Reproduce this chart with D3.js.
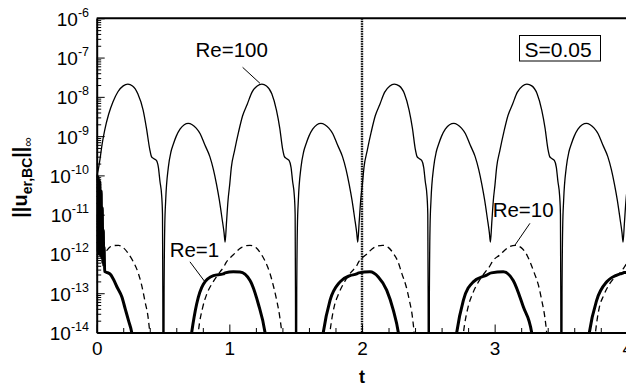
<!DOCTYPE html>
<html>
<head>
<meta charset="utf-8">
<script src="https://cdn.jsdelivr.net/npm/d3@7"></script>
<style>
  html, body { margin: 0; padding: 0; background: #fff; }
  svg { display: block; font-family: "Liberation Sans", Arial, Helvetica, sans-serif; }
</style>
</head>
<body>
<svg id="chart" width="626" height="389"></svg>
<script>
// ---- data -------------------------------------------------------------
const tTickValues = [0, 1, 2, 3, 4];
const tMinorValues = [0.2, 0.4, 0.6, 0.8, 1.2, 1.4, 1.6, 1.8, 2.2, 2.4, 2.6, 2.8, 3.2, 3.4, 3.6, 3.8];
const yExponents = [-6, -7, -8, -9, -10, -11, -12, -13, -14];
const yMinorMultipliers = [2, 3, 4, 5, 6, 7, 8, 9];
const periodMarkerT = 2;
const shapeFactorLabel = "S=0.05";

// Re = 100 (thin solid): [t, ||u||]
const re100 = [
  [0.000, 9e-11], [0.010, 1.3e-10], [0.025, 2.6e-10], [0.040, 6e-10], [0.060, 1.4e-9],
  [0.090, 3.6e-9], [0.123, 7.5e-9], [0.160, 1.35e-8], [0.200, 1.9e-8], [0.235, 2.1e-8],
  [0.270, 1.9e-8], [0.310, 1.2e-8], [0.350, 4.6e-9], [0.375, 1.6e-9], [0.400, 4.6e-10],
  [0.413, 3e-10], [0.428, 2.7e-10], [0.450, 2.4e-10], [0.465, 1.6e-10], [0.477, 7e-11],
  [0.490, 3e-11], [0.496, 1e-11], [0.4985, 1e-13], [0.4995, 1e-16],
  [0.5065, 1e-16], [0.508, 1e-13], [0.513, 5e-12], [0.520, 2.3e-11], [0.540, 1.6e-10],
  [0.560, 4e-10], [0.578, 6.3e-10], [0.600, 1e-9], [0.628, 1.5e-9], [0.660, 1.95e-9],
  [0.690, 2.1e-9], [0.720, 1.95e-9], [0.750, 1.6e-9], [0.780, 1.15e-9], [0.815, 6e-10],
  [0.853, 3e-10], [0.880, 1.4e-10], [0.903, 6e-11], [0.925, 2.3e-11], [0.945, 8e-12],
  [0.960, 3.5e-12], [0.968, 2e-12],
  [0.978, 6e-12], [0.990, 2.3e-11], [1.003, 6e-11], [1.015, 1.6e-10], [1.040, 4.4e-10],
  [1.070, 1.3e-9], [1.100, 3.3e-9], [1.135, 6.5e-9], [1.170, 1.3e-8], [1.210, 1.9e-8],
  [1.245, 2.1e-8], [1.280, 1.9e-8], [1.320, 1.2e-8], [1.355, 4.6e-9], [1.380, 1.6e-9],
  [1.402, 4.6e-10], [1.415, 3e-10], [1.430, 2.7e-10], [1.450, 2.4e-10], [1.465, 1.6e-10],
  [1.477, 7e-11], [1.490, 3e-11], [1.496, 1e-11], [1.4985, 1e-13], [1.4995, 1e-16],
  [1.5065, 1e-16], [1.508, 1e-13], [1.513, 5e-12], [1.520, 2.3e-11], [1.540, 1.6e-10],
  [1.560, 4e-10], [1.578, 6.3e-10], [1.600, 1e-9], [1.628, 1.5e-9], [1.660, 1.95e-9],
  [1.690, 2.1e-9], [1.720, 1.95e-9], [1.750, 1.6e-9], [1.780, 1.15e-9], [1.815, 6e-10],
  [1.853, 3e-10], [1.880, 1.4e-10], [1.903, 6e-11], [1.925, 2.3e-11], [1.945, 8e-12],
  [1.960, 3.5e-12], [1.968, 2e-12],
  [1.978, 6e-12], [1.990, 2.3e-11], [2.003, 6e-11], [2.015, 1.6e-10], [2.040, 4.4e-10],
  [2.070, 1.3e-9], [2.100, 3.3e-9], [2.135, 6.5e-9], [2.170, 1.3e-8], [2.210, 1.9e-8],
  [2.243, 2.1e-8], [2.280, 1.9e-8], [2.320, 1.2e-8], [2.355, 4.6e-9], [2.380, 1.6e-9],
  [2.402, 4.6e-10], [2.415, 3e-10], [2.430, 2.7e-10], [2.450, 2.4e-10], [2.465, 1.6e-10],
  [2.477, 7e-11], [2.490, 3e-11], [2.496, 1e-11], [2.4985, 1e-13], [2.4995, 1e-16],
  [2.5065, 1e-16], [2.508, 1e-13], [2.513, 5e-12], [2.520, 2.3e-11], [2.540, 1.6e-10],
  [2.560, 4e-10], [2.578, 6.3e-10], [2.600, 1e-9], [2.628, 1.5e-9], [2.660, 1.95e-9],
  [2.692, 2.1e-9], [2.720, 1.95e-9], [2.750, 1.6e-9], [2.780, 1.15e-9], [2.815, 6e-10],
  [2.853, 3e-10], [2.880, 1.4e-10], [2.903, 6e-11], [2.925, 2.3e-11], [2.945, 8e-12],
  [2.960, 3.5e-12], [2.968, 2e-12],
  [2.978, 6e-12], [2.990, 2.3e-11], [3.003, 6e-11], [3.015, 1.6e-10], [3.040, 4.4e-10],
  [3.070, 1.3e-9], [3.100, 3.3e-9], [3.135, 6.5e-9], [3.170, 1.3e-8], [3.210, 1.9e-8],
  [3.243, 2.1e-8], [3.280, 1.9e-8], [3.320, 1.2e-8], [3.355, 4.6e-9], [3.380, 1.6e-9],
  [3.402, 4.6e-10], [3.415, 3e-10], [3.430, 2.7e-10], [3.450, 2.4e-10], [3.465, 1.6e-10],
  [3.477, 7e-11], [3.490, 3e-11], [3.496, 1e-11], [3.4985, 1e-13], [3.4995, 1e-16],
  [3.5065, 1e-16], [3.508, 1e-13], [3.513, 5e-12], [3.520, 2.3e-11], [3.540, 1.6e-10],
  [3.560, 4e-10], [3.578, 6.3e-10], [3.600, 1e-9], [3.628, 1.5e-9], [3.660, 1.95e-9],
  [3.692, 2.1e-9], [3.720, 1.95e-9], [3.750, 1.6e-9], [3.780, 1.15e-9], [3.815, 6e-10],
  [3.853, 3e-10], [3.880, 1.4e-10], [3.903, 6e-11], [3.925, 2.3e-11], [3.945, 8e-12],
  [3.960, 3.5e-12], [3.968, 2e-12],
  [3.978, 6e-12], [3.990, 2.3e-11], [4.003, 6e-11]
];

// Re = 10 (dashed)
const re10 = [
  [0.000, 1e-10], [0.010, 2e-11], [0.025, 4e-12], [0.045, 1.2e-12], [0.063, 1.15e-12],
  [0.100, 1.5e-12], [0.135, 1.64e-12], [0.165, 1.66e-12], [0.200, 1.45e-12], [0.240, 1.0e-12],
  [0.274, 6.5e-13], [0.310, 3.5e-13], [0.337, 1.7e-13], [0.365, 6e-14], [0.387, 2.5e-14],
  [0.400, 1e-14], [0.410, 4e-15],
  [0.755, 4e-15], [0.766, 1e-14], [0.800, 4.5e-14], [0.830, 9.5e-14], [0.880, 2e-13],
  [0.930, 3.5e-13], [0.960, 4.8e-13], [0.975, 6e-13], [1.030, 9.5e-13], [1.090, 1.45e-12],
  [1.156, 1.66e-12], [1.200, 1.45e-12], [1.235, 1.05e-12], [1.270, 6.5e-13], [1.306, 3.2e-13],
  [1.335, 1.4e-13], [1.357, 6.6e-14], [1.380, 2.5e-14], [1.395, 1e-14], [1.405, 4e-15],
  [1.745, 4e-15], [1.758, 1e-14], [1.790, 4.5e-14], [1.820, 9e-14], [1.870, 2e-13],
  [1.920, 3.5e-13], [1.960, 5e-13], [1.975, 6.3e-13], [2.030, 9.5e-13], [2.090, 1.45e-12],
  [2.155, 1.66e-12], [2.200, 1.45e-12], [2.235, 1.05e-12], [2.270, 6.5e-13], [2.300, 3.2e-13],
  [2.335, 1.4e-13], [2.357, 6.6e-14], [2.380, 2.5e-14], [2.393, 1e-14], [2.403, 4e-15],
  [2.752, 4e-15], [2.765, 1e-14], [2.800, 4.5e-14], [2.835, 1e-13], [2.880, 2e-13],
  [2.930, 3.5e-13], [2.965, 5e-13], [2.980, 6.2e-13], [3.040, 9.5e-13], [3.100, 1.45e-12],
  [3.155, 1.66e-12], [3.200, 1.45e-12], [3.235, 1.05e-12], [3.265, 6.5e-13], [3.300, 3.2e-13],
  [3.330, 1.6e-13], [3.355, 6.6e-14], [3.378, 2.5e-14], [3.392, 1e-14], [3.402, 4e-15],
  [3.748, 4e-15], [3.760, 1e-14], [3.790, 4.5e-14], [3.820, 8.5e-14], [3.870, 1.8e-13],
  [3.920, 2.8e-13], [3.950, 3.4e-13], [3.975, 4.5e-13], [4.000, 6e-13]
];

// Re = 1 (thick solid); the start-up transient oscillates rapidly
const re1 = [
  [0.000, 1.1e-10], [0.006, 1.2e-12], [0.012, 9e-11], [0.018, 1e-12], [0.024, 7e-11],
  [0.029, 9e-13], [0.034, 4e-11], [0.038, 8e-13], [0.042, 1.5e-11], [0.046, 6e-13],
  [0.050, 4e-12], [0.053, 5e-13], [0.056, 1.5e-12], [0.060, 3.6e-13], [0.075, 3.4e-13],
  [0.100, 3.1e-13], [0.125, 2.3e-13], [0.155, 1.4e-13], [0.190, 8e-14], [0.215, 4e-14],
  [0.240, 2e-14], [0.264, 1e-14], [0.280, 4e-15],
  [0.700, 4e-15], [0.716, 1e-14], [0.754, 5.4e-14], [0.804, 1.7e-13], [0.880, 2.8e-13],
  [0.954, 3.1e-13], [0.968, 3.3e-13], [1.030, 3.5e-13], [1.080, 3.45e-13], [1.156, 2.1e-13],
  [1.218, 5.4e-14], [1.269, 1e-14], [1.285, 4e-15],
  [1.692, 4e-15], [1.708, 1e-14], [1.759, 6.6e-14], [1.834, 1.95e-13], [1.910, 2.8e-13],
  [1.960, 3.1e-13], [1.975, 3.3e-13], [2.060, 3.5e-13], [2.123, 2.6e-13], [2.186, 1.2e-13],
  [2.236, 3.7e-14], [2.274, 1e-14], [2.290, 4e-15],
  [2.698, 4e-15], [2.714, 1e-14], [2.764, 6.6e-14], [2.839, 1.95e-13], [2.940, 2.9e-13],
  [2.975, 3.3e-13], [3.065, 3.5e-13], [3.140, 2.1e-13], [3.216, 4.5e-14], [3.279, 1e-14],
  [3.295, 4e-15],
  [3.698, 4e-15], [3.714, 1e-14], [3.769, 6.6e-14], [3.845, 1.95e-13], [3.945, 3.1e-13],
  [3.960, 3.2e-13], [3.975, 3.35e-13], [4.000, 3.4e-13]
];

// ---- layout -----------------------------------------------------------
const svg = d3.select("#chart");
const plotLeft = 96.7, plotRight = 627.3, plotTop = 18.3, plotBottom = 332.5;

const x = d3.scaleLinear().domain([0, 4]).range([plotLeft, plotRight]);
const y = d3.scaleLog().domain([1e-14, 1e-6]).range([plotBottom, plotTop]);

svg.append("defs").append("clipPath").attr("id", "plotClip")
  .append("rect").attr("x", plotLeft).attr("y", plotTop)
  .attr("width", plotRight - plotLeft).attr("height", plotBottom - plotTop);

const line = d3.line()
  .x(d => x(d[0]))
  .y(d => y(d[1]))
  .curve(d3.curveMonotoneX);

const plot = svg.append("g").attr("clip-path", "url(#plotClip)");

// vertical dotted marker at t = 2
plot.append("line")
  .attr("x1", x(periodMarkerT)).attr("x2", x(periodMarkerT))
  .attr("y1", plotTop).attr("y2", plotBottom)
  .attr("stroke", "#000").attr("stroke-width", 2.4)
  .attr("stroke-dasharray", "1.5,1");

plot.append("path").datum(re10).attr("d", line)
  .attr("fill", "none").attr("stroke", "#000").attr("stroke-width", 1.3)
  .attr("stroke-dasharray", "6,4");

plot.append("path").datum(re100).attr("d", line)
  .attr("fill", "none").attr("stroke", "#000").attr("stroke-width", 1.3);

plot.append("path").datum(re1).attr("d", line)
  .attr("fill", "none").attr("stroke", "#000").attr("stroke-width", 3)
  .attr("stroke-linejoin", "round");

// ---- axes -------------------------------------------------------------
const axisFont = 19;

// bottom: major + minor ticks pointing into the plot
const xAxis = svg.append("g").attr("transform", `translate(0,${plotBottom})`)
  .call(d3.axisBottom(x).tickValues(tTickValues).tickSizeInner(-8).tickSizeOuter(0)
    .tickPadding(9.5).tickFormat(d3.format("d")));
xAxis.selectAll("text").attr("font-size", axisFont).attr("fill", "#000")
  .attr("font-family", "'Liberation Sans', Arial, sans-serif");
xAxis.select(".domain").attr("stroke-width", 2);

svg.append("g").attr("transform", `translate(0,${plotBottom})`)
  .call(d3.axisBottom(x).tickValues(tMinorValues).tickSizeInner(-4.5).tickSizeOuter(0).tickFormat(""))
  .select(".domain").remove();

// left: decades + log minor ticks pointing into the plot
const yMajor = yExponents.map(e => Math.pow(10, e));
const yMinor = [];
yExponents.slice(1).forEach(e => yMinorMultipliers.forEach(m => yMinor.push(m * Math.pow(10, e))));

const yAxis = svg.append("g").attr("transform", `translate(${plotLeft},0)`)
  .call(d3.axisLeft(y).tickValues(yMajor).tickSizeInner(-8).tickSizeOuter(0).tickFormat(""));
yAxis.select(".domain").attr("stroke-width", 2);

svg.append("g").attr("transform", `translate(${plotLeft},0)`)
  .call(d3.axisLeft(y).tickValues(yMinor).tickSizeInner(-4.5).tickSizeOuter(0).tickFormat(""))
  .select(".domain").remove();

// decade labels written as 10 with a superscript exponent
yExponents.forEach(e => {
  const label = svg.append("text")
    .attr("x", 89).attr("y", y(Math.pow(10, e)) + 7.5)
    .attr("text-anchor", "end").attr("font-size", axisFont).attr("fill", "#000");
  label.append("tspan").text("10");
  label.append("tspan").attr("font-size", 12.5).attr("dy", -9).text(String(e));
});

// top frame line
svg.append("line").attr("x1", plotLeft).attr("x2", plotRight).attr("y1", plotTop).attr("y2", plotTop)
  .attr("stroke", "#000").attr("stroke-width", 2);

// axis titles
svg.append("text").attr("x", x(2)).attr("y", 383.3)
  .attr("text-anchor", "middle").attr("font-size", 18).attr("font-weight", "bold").text("t");

const yTitle = svg.append("text")
  .attr("transform", "translate(27,177.5) rotate(-90)")
  .attr("text-anchor", "middle").attr("font-weight", "bold").attr("font-size", 20);
yTitle.append("tspan").text("||u");
yTitle.append("tspan").attr("font-size", 14).attr("dy", 5).text("er,BC");
yTitle.append("tspan").attr("dy", -5).text("||");
yTitle.append("tspan").attr("font-size", 13).attr("font-weight", "normal").attr("dy", 5).text("∞");

// ---- annotations (anchored in data coordinates) -----------------------
const annotations = [
  { label: "Re=100", tx: 0.745, ty: -6.99, from: [1.100, -7.248], to: [1.231, -7.656] },
  { label: "Re=1",   tx: 0.550, ty: -12.07, from: [0.703, -12.20], to: [0.816, -12.71] },
  { label: "Re=10",  tx: 2.985, ty: -11.055, from: [3.266, -11.22], to: [3.153, -11.776] }
];
annotations.forEach(a => {
  svg.append("text").attr("x", x(a.tx)).attr("y", y(Math.pow(10, a.ty)))
    .attr("font-size", 20.5).attr("fill", "#000").text(a.label);
  svg.append("line")
    .attr("x1", x(a.from[0])).attr("y1", y(Math.pow(10, a.from[1])))
    .attr("x2", x(a.to[0])).attr("y2", y(Math.pow(10, a.to[1])))
    .attr("stroke", "#000").attr("stroke-width", 1);
});

// boxed parameter label
const box = svg.append("g").attr("transform", "translate(519.5,35.5)");
box.append("rect").attr("width", 81).attr("height", 25.5)
  .attr("fill", "#fff").attr("stroke", "#000").attr("stroke-width", 1);
box.append("text").attr("x", 5).attr("y", 21).attr("font-size", 21).text(shapeFactorLabel);
</script>
</body>
</html>
